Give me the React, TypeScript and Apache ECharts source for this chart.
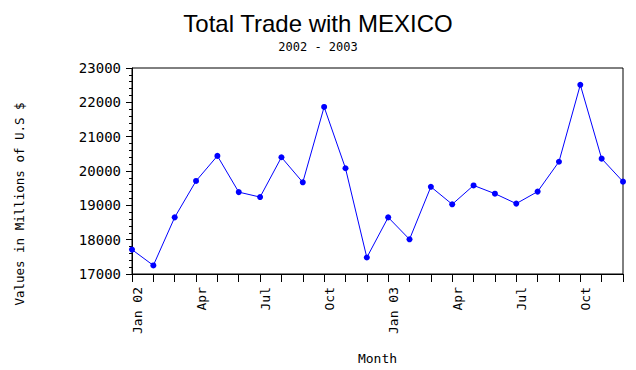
import React, { useEffect, useRef } from "react";
import * as echarts from "echarts";

const months: string[] = [
  "Jan 02", "Feb", "Mar", "Apr", "May", "Jun", "Jul", "Aug", "Sep", "Oct", "Nov", "Dec",
  "Jan 03", "Feb", "Mar", "Apr", "May", "Jun", "Jul", "Aug", "Sep", "Oct", "Nov", "Dec",
];

const values2002: number[] = [
  17710, 17250, 18650, 19710, 20440, 19385, 19240, 20400, 19670, 21865, 20080, 17480,
];
const values2003: number[] = [
  18650, 18010, 19540, 19030, 19580, 19340, 19050, 19400, 20270, 22510, 20360, 19690,
];

const titleText = "Total Trade with MEXICO";
const subtitleText = "2002 - 2003";
const yAxisTitle = "Values in Millions of U.S $";
const xAxisTitle = "Month";

const MONO = "DejaVu Sans Mono";

export default function App() {
  const ref = useRef<HTMLDivElement>(null);

  useEffect(() => {
    if (!ref.current) return;
    const chart = echarts.init(ref.current, null, { renderer: "svg" });
    const data = [...values2002, ...values2003];
    chart.setOption({
      animation: false,
      backgroundColor: "#ffffff",
      title: [
        {
          text: titleText,
          left: "center",
          top: 6,
          textStyle: {
            fontFamily: "Liberation Sans",
            fontSize: 24,
            fontWeight: "normal",
            color: "#000",
          },
        },
        {
          text: subtitleText,
          left: "center",
          top: 36,
          textStyle: {
            fontFamily: MONO,
            fontSize: 12,
            fontWeight: "normal",
            color: "#000",
          },
        },
      ],
      graphic: [
        {
          type: "text",
          x: 19,
          y: 204,
          rotation: Math.PI / 2,
          style: {
            text: yAxisTitle,
            fontFamily: MONO,
            fontSize: 12.5,
            fill: "#000",
            align: "center",
            verticalAlign: "middle",
          },
        },
      ],
      grid: {
        left: 132,
        right: 13,
        top: 68,
        bottom: 94,
        show: true,
        borderColor: "#000",
        borderWidth: 1,
        backgroundColor: "transparent",
      },
      xAxis: {
        type: "category",
        data: months,
        boundaryGap: false,
        name: xAxisTitle,
        nameLocation: "middle",
        nameGap: 78,
        nameTextStyle: { fontFamily: MONO, fontSize: 13, color: "#000" },
        axisLine: { show: true, lineStyle: { color: "#000", width: 1 } },
        axisTick: { show: true, interval: 0, length: 8, lineStyle: { color: "#000" } },
        axisLabel: {
          interval: (i: number) => i % 3 === 0,
          rotate: 90,
          margin: 13,
          verticalAlign: "top",
          lineHeight: 10,
          fontFamily: MONO,
          fontSize: 13,
          color: "#000",
        },
        splitLine: { show: false },
      },
      yAxis: {
        type: "value",
        min: 17000,
        max: 23000,
        interval: 1000,
        axisLine: { show: true, lineStyle: { color: "#000", width: 1 } },
        axisTick: { show: true, length: 6, lineStyle: { color: "#000" } },
        minorTick: { show: true, splitNumber: 5, length: 3, lineStyle: { color: "#000" } },
        axisLabel: {
          margin: 11,
          fontFamily: MONO,
          fontSize: 14,
          color: "#000",
          formatter: (v: number) => String(v),
        },
        splitLine: { show: false },
        minorSplitLine: { show: false },
      },
      series: [
        {
          type: "line",
          data,
          symbol: "circle",
          symbolSize: 6,
          showAllSymbol: true,
          lineStyle: { color: "#0000ff", width: 1 },
          itemStyle: { color: "#0000ff" },
        },
      ],
    });
    return () => chart.dispose();
  }, []);

  return (
    <div
      ref={ref}
      style={{ position: "absolute", left: 0, top: 0, width: 636, height: 370 }}
    />
  );
}
